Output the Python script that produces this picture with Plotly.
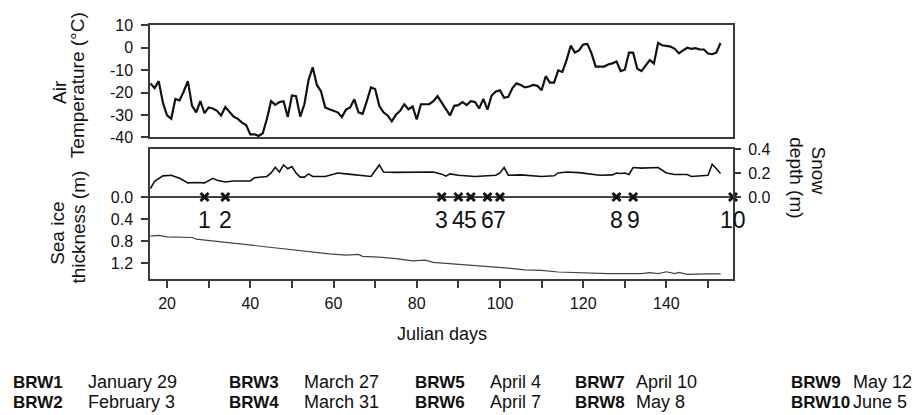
import plotly.graph_objects as go

# ---------------- data ----------------
temp_days = list(range(16, 154))
temp_vals = [
    -15.9, -18.0, -14.9, -24.5, -30.2, -31.7, -22.8, -23.5, -19.5, -14.9,
    -25.9, -28.8, -23.8, -29.2, -26.6, -27.1, -28.1, -30.2, -26.4, -28.8,
    -30.7, -31.7, -33.4, -34.5, -38.6, -38.6, -39.3, -38.1, -31.7, -23.8,
    -25.5, -24.2, -23.9, -30.9, -21.3, -21.6, -30.7, -25.2, -14.4, -8.7,
    -16.6, -19.5, -26.6, -27.4, -28.1, -28.8, -30.9, -27.6, -26.6, -23.0,
    -28.8, -29.5, -23.8, -17.7, -18.4, -25.9, -28.8, -30.2, -32.8, -29.9,
    -28.1, -25.2, -27.4, -26.2, -32.0, -25.2, -25.2, -25.2, -23.8, -21.6,
    -24.5, -27.1, -30.2, -25.9, -25.6, -24.2, -25.6, -23.8, -24.2, -27.1,
    -22.8, -27.6, -21.3, -19.5, -19.0, -22.3, -21.9, -18.0, -15.9, -16.6,
    -17.7, -17.3, -16.6, -17.0, -19.0, -12.7, -15.6, -15.6, -10.1, -10.8,
    -5.5, 0.9, -2.2, -1.2, 1.4, 1.7, -2.5, -8.4, -8.4, -8.4,
    -7.5, -7.0, -6.1, -10.4, -9.8, -2.2, -2.2, -9.4, -10.4, -8.0,
    -5.5, -7.0, 2.1, 1.1, 0.9, 0.5, -0.5, -2.5, -1.2, 0.0,
    -0.5, -0.2, -0.8, -0.8, -2.6, -2.9, -2.2, 2.1,
]

snow_days = [16, 17, 19, 21, 23, 25, 27, 29, 31, 32, 34, 36, 40, 41, 44, 45, 46, 47,
             48, 49, 50, 51, 52, 53, 54, 55, 58, 61, 63, 66, 69, 71, 72, 75, 79, 84,
             86, 87, 88, 90, 94, 97, 99, 100, 101, 102, 105, 110, 113, 114, 116, 119,
             122, 124, 127, 128, 129, 130, 131, 132, 134, 136, 138, 140, 142, 145,
             146, 150, 151, 152, 153]
snow_depth = [0.07, 0.13, 0.176, 0.181, 0.155, 0.117, 0.12, 0.117, 0.155, 0.139,
              0.125, 0.133, 0.133, 0.16, 0.171, 0.2, 0.248, 0.208, 0.267, 0.235,
              0.253, 0.2, 0.165, 0.165, 0.192, 0.171, 0.171, 0.2, 0.192, 0.181,
              0.171, 0.267, 0.208, 0.205, 0.205, 0.208, 0.19, 0.173, 0.192, 0.181,
              0.171, 0.179, 0.181, 0.2, 0.245, 0.181, 0.184, 0.171, 0.176, 0.2,
              0.208, 0.203, 0.192, 0.181, 0.184, 0.2, 0.195, 0.2, 0.187, 0.245,
              0.24, 0.24, 0.245, 0.2, 0.187, 0.187, 0.171, 0.181, 0.272, 0.235,
              0.195]

ice_days = [16, 18, 20, 23, 26, 27, 31, 35, 39, 43, 47, 51, 55, 59, 63, 66, 67, 71,
            75, 79, 82, 84, 87, 89, 92, 94, 98, 102, 106, 110, 114, 118, 122, 126,
            130, 134, 136, 138, 140, 142, 143, 145, 150, 153]
ice_thick = [0.71, 0.696, 0.725, 0.736, 0.736, 0.765, 0.80, 0.823, 0.87, 0.904,
             0.939, 0.974, 1.003, 1.032, 1.055, 1.043, 1.078, 1.09, 1.119, 1.159,
             1.148, 1.188, 1.206, 1.217, 1.229, 1.246, 1.275, 1.293, 1.322, 1.333,
             1.362, 1.374, 1.391, 1.39, 1.39, 1.39, 1.374, 1.391, 1.357, 1.391,
             1.368, 1.403, 1.397, 1.397]

sample_days = [29, 34, 86, 90, 93, 97, 100, 128, 132, 156]
sample_nums = ["1", "2", "3", "4", "5", "6", "7", "8", "9", "10"]

brw_labels = ["BRW1", "BRW2", "BRW3", "BRW4", "BRW5", "BRW6", "BRW7", "BRW8", "BRW9", "BRW10"]
brw_dates = ["January 29", "February 3", "March 27", "March 31", "April 4",
             "April 7", "April 10", "May 8", "May 12", "June 5"]

temp_ticks = [10, 0, -10, -20, -30, -40]
temp_ticktext = ["10", "0", "-10", "-20", "-30", "-40"]
ice_ticks = [0.0, 0.4, 0.8, 1.2]
ice_ticktext = ["0.0", "0.4", "0.8", "1.2"]
snow_ticks = [0.0, 0.2, 0.4]
snow_ticktext = ["0.0", "0.2", "0.4"]
day_ticks = [20, 40, 60, 80, 100, 120, 140]

# ---------------- layout helpers ----------------
W, H = 912, 415
FONT = "Liberation Sans, Arial, Helvetica, sans-serif"
AX = "#3a3a3a"


def px(x):
    return x / W


def py(y):
    return (H - y) / H


xdom = [px(150), px(733)]
xrange_ = [15.9, 156.0]

fig = go.Figure()
fig.add_trace(go.Scatter(x=temp_days, y=temp_vals, mode="lines",
                         line=dict(color="#111111", width=2.2), xaxis="x", yaxis="y",
                         showlegend=False, hoverinfo="skip"))
fig.add_trace(go.Scatter(x=ice_days, y=ice_thick, mode="lines",
                         line=dict(color="#444444", width=1.2), xaxis="x2", yaxis="y2",
                         showlegend=False, hoverinfo="skip"))
fig.add_trace(go.Scatter(x=snow_days, y=snow_depth, mode="lines",
                         line=dict(color="#111111", width=1.6), xaxis="x2", yaxis="y3",
                         showlegend=False, hoverinfo="skip"))
fig.add_trace(go.Scatter(x=sample_days, y=[0] * len(sample_days), mode="markers",
                         marker=dict(symbol="x-thin", size=8,
                                     line=dict(color="#111111", width=3)),
                         xaxis="x2", yaxis="y2", cliponaxis=False,
                         showlegend=False, hoverinfo="skip"))

axis_common = dict(showline=True, linecolor=AX, linewidth=1.5, mirror=True,
                   showgrid=False, zeroline=False, ticks="outside", ticklen=7,
                   tickcolor=AX, tickwidth=1.5,
                   tickfont=dict(family=FONT, size=16, color="#111"))

fig.update_layout(
    width=W, height=H,
    margin=dict(l=0, r=0, t=0, b=0),
    paper_bgcolor="white", plot_bgcolor="white",
    font=dict(family=FONT, color="#111"),
    xaxis=dict(domain=xdom, anchor="y", range=xrange_, showline=True, linecolor=AX,
               linewidth=1.5, mirror=True, showgrid=False, zeroline=False,
               showticklabels=False, ticks=""),
    yaxis=dict(domain=[py(135), py(18)], anchor="x", range=[-40, 10],
               tickmode="array", tickvals=temp_ticks, ticktext=temp_ticktext,
               ticklabelstandoff=5, **axis_common),
    xaxis2=dict(domain=xdom, anchor="y2", range=xrange_, tickmode="array",
                tickvals=day_ticks, ticklabelstandoff=2,
                minor=dict(ticks="outside", ticklen=7, tickcolor=AX, tickwidth=1.5,
                           tickmode="array", tickvals=[30, 50, 70, 90, 110, 130, 150]),
                **axis_common),
    yaxis2=dict(domain=[py(283), py(147)], anchor="x2", range=[1.496, -0.87],
                tickmode="array", tickvals=ice_ticks, ticktext=ice_ticktext,
                ticklabelstandoff=5, **axis_common),
    yaxis3=dict(overlaying="y2", anchor="x2", side="right", range=[-0.688, 0.4],
                tickmode="array", tickvals=snow_ticks, ticktext=snow_ticktext,
                showline=False, showgrid=False, zeroline=False, ticks="outside",
                ticklen=7, tickcolor=AX, tickwidth=1.5, ticklabelstandoff=4,
                tickfont=dict(family=FONT, size=16, color="#111")),
    shapes=[dict(type="line", xref="x2 domain", yref="y2", x0=0, x1=1, y0=0, y1=0,
                 line=dict(color="#444444", width=2), layer="below")],
)

ann = []
# sample numbers
for d, n in zip(sample_days, sample_nums):
    ann.append(dict(x=d, y=0, xref="x2", yref="y2", text=n, showarrow=False,
                    xanchor="center", yanchor="middle", yshift=-23,
                    font=dict(family=FONT, size=23, color="#111")))

# axis titles (positions in pixels)
title_font = dict(family=FONT, size=19, color="#111")
titles = [
    ("Air", 59.5, 87, -90),
    ("Temperature (°C)", 77.5, 81, -90),
    ("Sea ice", 57.5, 235, -90),
    ("thickness (m)", 79, 229, -90),
    ("Snow", 818.5, 169, 90),
    ("depth (m)", 796.5, 177, 90),
]
for t, x, y, a in titles:
    ann.append(dict(x=px(x), y=py(y), xref="paper", yref="paper", text=t,
                    textangle=a, showarrow=False, xanchor="center", yanchor="middle",
                    font=title_font))
ann.append(dict(x=px(442), y=py(340), xref="paper", yref="paper", text="Julian days",
                showarrow=False, xanchor="center", yanchor="middle",
                font=dict(family=FONT, size=18, color="#111")))

# bottom key
col_label_x = [11, 227, 413, 573, 789]
col_date_x = [86, 302, 488, 634, 851]
row_y = [390, 411]
for i, (lab, dt) in enumerate(zip(brw_labels, brw_dates)):
    c, r = divmod(i, 2)
    ann.append(dict(x=px(col_label_x[c]), y=py(row_y[r]), xref="paper", yref="paper",
                    text="<b>" + lab + "</b>", showarrow=False, xanchor="left",
                    yanchor="middle", font=dict(family=FONT, size=17, color="#111")))
    ann.append(dict(x=px(col_date_x[c]), y=py(row_y[r]), xref="paper", yref="paper",
                    text=dt, showarrow=False, xanchor="left", yanchor="middle",
                    font=dict(family=FONT, size=18, color="#111")))

fig.update_layout(annotations=ann)
fig.write_html("out.html", config={"displayModeBar": False},
               post_script="document.body.style.margin='0';"
                           "document.body.style.overflow='hidden';")
